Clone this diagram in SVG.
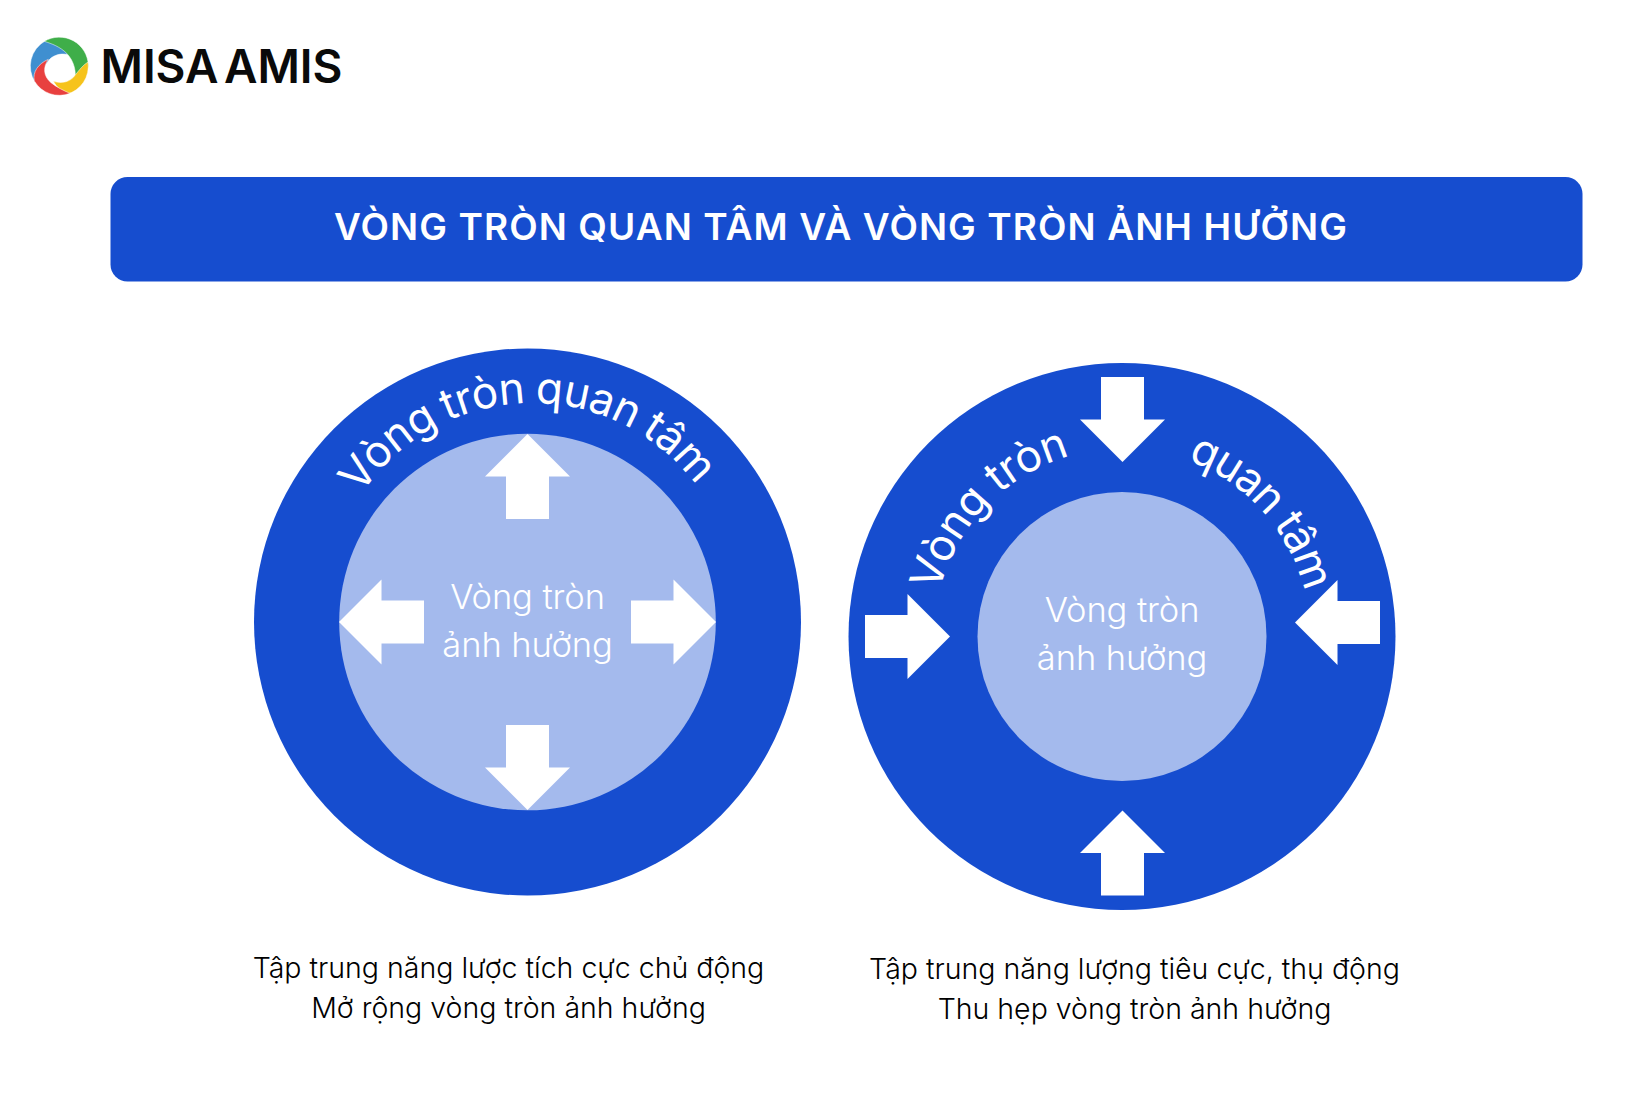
<svg xmlns="http://www.w3.org/2000/svg" width="1650" height="1100" viewBox="0 0 1650 1100">
<style>
text{font-family:Inter,"Noto Sans","Liberation Sans",sans-serif}
.outer{fill:#164dcf}.inner{fill:#a4baed}.arrow{fill:#fff}
.center{fill:#fff;font-size:34.500px;font-weight:300;text-anchor:middle;letter-spacing:-0.100px}
.curve{fill:#fff;font-size:44px;font-weight:400;letter-spacing:-0.600px}
.curve1{fill:#fff;font-size:44px;font-weight:400;letter-spacing:-0.600px;word-spacing:-2px}
.curve2{fill:#fff;font-size:44px;font-weight:400;letter-spacing:-1.500px}
.cap{fill:#000;font-size:28.500px;font-weight:300;text-anchor:middle}
.blade{stroke:#fff;stroke-width:1.500}
</style>
<defs>
<path id="arrowUp" d="M0,0 L42.500,42.500 H21.500 V85 H-21.500 V42.500 H-42.500 Z"/>
<path id="arcL" d="M327,608 a205,205 0 0 1 410,0"/>
<path id="arcB" d="M934,636.500 a188,188 0 0 1 376,0"/>
</defs>
<rect width="1650" height="1100" fill="#fff"/>
<g id="logo">
<g transform="translate(25,32) scale(0.3333)">
<circle cx="103" cy="103" r="87" fill="#fff"/>
<path class="blade" fill="#3f8fd0" d="M30,150 A87,87 0 0 1 60,27 C90,30 120,45 135,70 C115,62 88,66 72,84 C58,100 50,120 45,140 Z"/>
<path class="blade" fill="#3fae49" d="M58,28 A87,87 0 0 1 190,100 C188,120 175,140 148,152 C156,122 148,88 125,64 C105,44 80,35 58,28Z"/>
<path class="blade" fill="#f6c31c" d="M189,90 A87,87 0 0 1 125,187 C110,180 95,165 85,148 C110,156 136,150 150,130 C162,115 175,98 189,90Z"/>
<path class="blade" fill="#e8403f" d="M135,184 A87,87 0 0 1 28,147 C22,120 40,95 70,82 C54,105 54,132 78,152 C95,166 115,175 135,184Z"/>
</g>
<text x="100.500" y="82.500" font-size="46" font-weight="600" fill="#0a0a0a" word-spacing="-6" textLength="242" lengthAdjust="spacing">MISA AMIS</text>
</g>
<g id="banner">
<rect x="110.500" y="177" width="1472" height="104.500" rx="17" fill="#164dcf"/>
<text x="840.500" y="240" font-size="37" font-weight="600" fill="#fff" text-anchor="middle" textLength="1013" lengthAdjust="spacing">VÒNG TRÒN QUAN TÂM VÀ VÒNG TRÒN ẢNH HƯỞNG</text>
</g>
<g id="circle-expand">
<circle class="outer" cx="527.500" cy="622" r="273.500"/>
<circle class="inner" cx="527.500" cy="622" r="188.300"/>
<text class="curve1"><textPath href="#arcL" startOffset="120">Vòng tròn quan tâm</textPath></text>
<text class="center" x="527.500" y="609">Vòng tròn</text>
<text class="center" x="527.500" y="657">ảnh hưởng</text>
</g>
<g id="circle-shrink">
<circle class="outer" cx="1122" cy="636.500" r="273.500"/>
<circle class="inner" cx="1122" cy="636.500" r="144.500"/>
<text class="curve"><textPath href="#arcB" startOffset="45">Vòng tròn</textPath></text>
<text class="curve2"><textPath href="#arcB" startOffset="362">quan tâm</textPath></text>
<text class="center" x="1122" y="622">Vòng tròn</text>
<text class="center" x="1122" y="670">ảnh hưởng</text>
</g>
<g id="connectors" class="arrow">
<use href="#arrowUp" transform="translate(527.500,434)"/>
<use href="#arrowUp" transform="translate(527.500,810) rotate(180)"/>
<use href="#arrowUp" transform="translate(339,622) rotate(-90)"/>
<use href="#arrowUp" transform="translate(716,622) rotate(90)"/>
<use href="#arrowUp" transform="translate(1122.500,462) rotate(180)"/>
<use href="#arrowUp" transform="translate(1122.500,810.500)"/>
<use href="#arrowUp" transform="translate(950,636.500) rotate(90)"/>
<use href="#arrowUp" transform="translate(1295,622.500) rotate(-90)"/>
</g>
<g id="captions">
<text class="cap" x="508.500" y="978">Tập trung năng lược tích cực chủ động</text>
<text class="cap" x="508.500" y="1018">Mở rộng vòng tròn ảnh hưởng</text>
<text class="cap" x="1134.500" y="979">Tập trung năng lượng tiêu cực, thụ động</text>
<text class="cap" x="1134.500" y="1019">Thu hẹp vòng tròn ảnh hưởng</text>
</g>
</svg>
